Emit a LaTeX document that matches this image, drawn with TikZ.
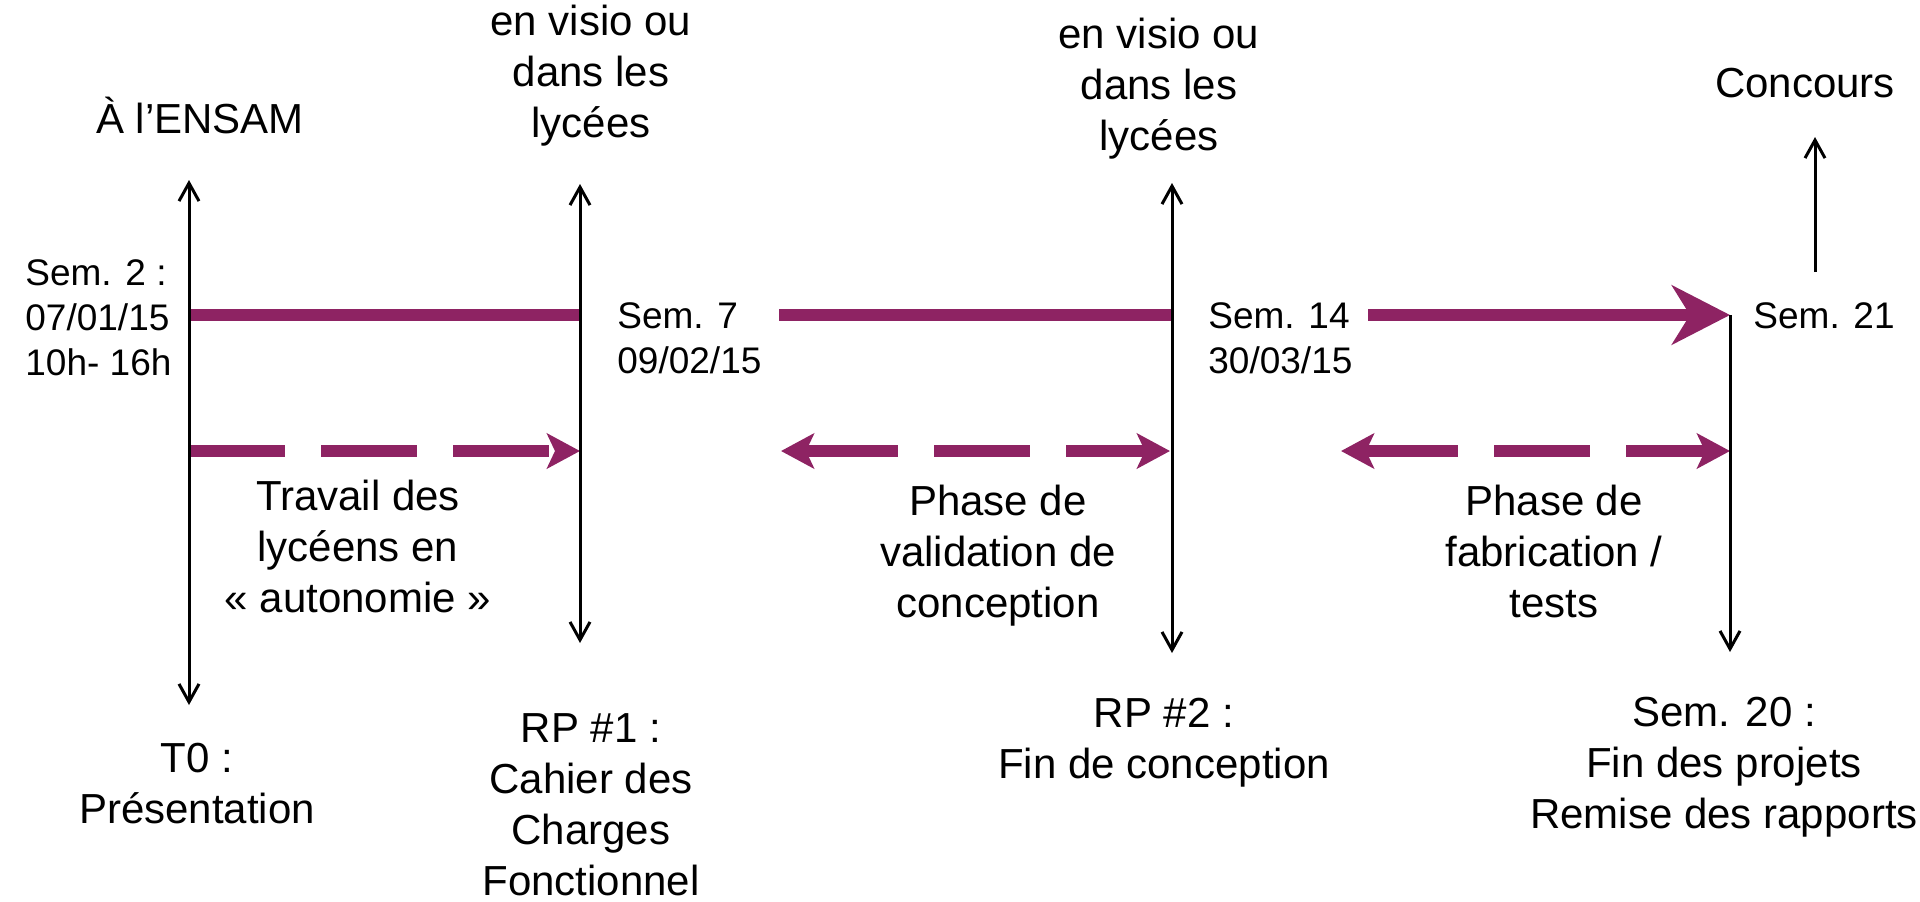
\documentclass[tikz,border=0pt]{standalone}
\usepackage{fontspec}
\setmainfont{Liberation Sans}
\usetikzlibrary{arrows.meta}
\definecolor{prune}{RGB}{142,35,99}

\begin{document}
\begin{tikzpicture}[x=0.5pt, y=-0.5pt]
		\tikzset{txt/.style = {font=\fontsize{21}{25.5}\selectfont, align=center, inner sep=0pt, anchor=base}}
		\tikzset{sem/.style = {font=\fontsize{18.5}{22.5}\selectfont, align=left, inner sep=0pt, anchor=base west}}
		\tikzset{edge/.style = {line width=1.5pt, >={Straight Barb[length=9pt, width=10pt]}}}
		\tikzset{bar/.style = {line width=6pt, prune, >={Stealth[length=29pt, width=29.5pt, inset=9pt]}}}
		\tikzset{dashbar/.style = {line width=6pt, prune, dash pattern=on 48pt off 18pt, >={Stealth[length=16.5pt, width=17.5pt, inset=4pt]}}}
		
		\useasboundingbox (0,0) rectangle (1920,901);
		
		\node[txt]  (1) at ( 200, 133) {À l’ENSAM};
		\node[txt]  (2) at ( 591, 137) {en visio ou\\dans les\\lycées};
		\node[txt]  (3) at (1159, 150) {en visio ou\\dans les\\lycées};
		\node[txt]  (4) at (1805,  97) {Concours};
		\node[sem]  (5) at (  25, 375) {Sem. 2 :\\07/01/15\\10h- 16h};
		\node[sem]  (6) at ( 617, 373) {Sem. 7\\09/02/15};
		\node[sem]  (7) at (1208, 373) {Sem. 14\\30/03/15};
		\node[sem]  (8) at (1753, 328) {Sem. 21};
		\node[txt]  (9) at ( 358, 612) {Travail des\\lycéens en\\« autonomie »};
		\node[txt] (10) at ( 998, 617) {Phase de\\validation de\\conception};
		\node[txt] (11) at (1554, 617) {Phase de\\fabrication /\\tests};
		\node[txt] (12) at ( 197, 823) {T0 :\\Présentation};
		\node[txt] (13) at ( 591, 895) {RP \#1 :\\Cahier des\\Charges\\Fonctionnel};
		\node[txt] (14) at (1164, 778) {RP \#2 :\\Fin de conception};
		\node[txt] (15) at (1724, 828) {Sem. 20 :\\Fin des projets\\Remise des rapports};
		
		\coordinate (20) at ( 189, 180);
		\coordinate (21) at ( 189, 705);
		\coordinate (22) at ( 580, 184);
		\coordinate (23) at ( 580, 643);
		\coordinate (24) at (1172, 183);
		\coordinate (25) at (1172, 653);
		\coordinate (26) at (1730, 315);
		\coordinate (27) at (1730, 652);
		\coordinate (28) at (1815, 272);
		\coordinate (29) at (1815, 137);
		
		\coordinate (30) at ( 189, 315);
		\coordinate (31) at ( 580, 315);
		\coordinate (32) at ( 779, 315);
		\coordinate (33) at (1172, 315);
		\coordinate (34) at (1368, 315);
		
		\coordinate (35) at ( 189, 451);
		\coordinate (36) at ( 580, 451);
		\coordinate (37) at ( 781, 451);
		\coordinate (38) at (1170, 451);
		\coordinate (39) at (1341, 451);
		\coordinate (40) at (1730, 451);
		
		\draw[bar] (30) to (31);
		\draw[bar] (32) to (33);
		\draw[bar,->] (34) to (26);
		\draw[dashbar,->] (35) to (36);
		\draw[dashbar,dash phase=1pt,<->] (37) to (38);
		\draw[dashbar,dash phase=1pt,<->] (39) to (40);
		
		\draw[edge,<->] (20) to (21);
		\draw[edge,<->] (22) to (23);
		\draw[edge,<->] (24) to (25);
		\draw[edge,->] (26) to (27);
		\draw[edge,->] (28) to (29);
		\end{tikzpicture}
\end{document}
